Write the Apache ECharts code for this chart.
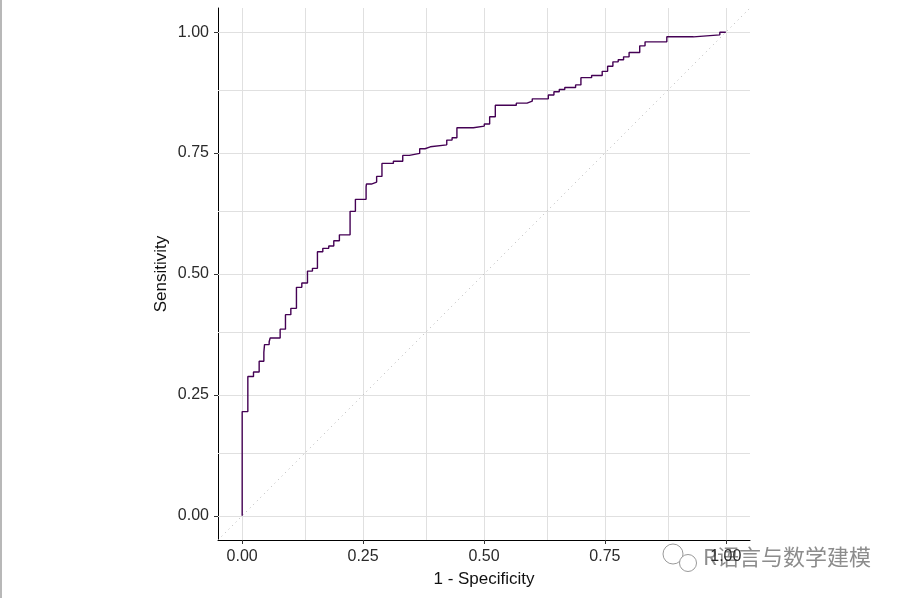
<!DOCTYPE html>
<html>
<head>
<meta charset="utf-8">
<script src="https://cdn.jsdelivr.net/npm/echarts@6/dist/echarts.min.js"></script>
<style>
html,body{margin:0;padding:0;background:#fff;}
#chart{width:899px;height:598px;}
</style>
</head>
<body>
<div id="chart"></div>
<script>
// ROC curve points (1 - specificity, sensitivity)
const fpr = [0, 0, 0.0117, 0.0234, 0.0351, 0.0448, 0.0462, 0.0558, 0.0579, 0.0785, 0.0895, 0.1006, 0.1122, 0.1233, 0.135, 0.1453, 0.1556, 0.1667, 0.179, 0.1894, 0.201, 0.2231, 0.2341, 0.2562, 0.2569, 0.2672, 0.278, 0.289, 0.3126, 0.332, 0.3457, 0.367, 0.378, 0.389, 0.423, 0.434, 0.444, 0.478, 0.5006, 0.5117, 0.5234, 0.5668, 0.589, 0.5998, 0.633, 0.6446, 0.6556, 0.667, 0.6894, 0.7004, 0.7225, 0.7444, 0.7556, 0.7665, 0.7775, 0.7886, 0.800, 0.822, 0.833, 0.878, 0.933, 0.9876, 1.0];
const tpr = [0, 0.2155, 0.288, 0.2975, 0.3196, 0.338, 0.354, 0.360, 0.3678, 0.386, 0.416, 0.429, 0.4724, 0.4814, 0.506, 0.5117, 0.546, 0.553, 0.558, 0.5688, 0.581, 0.6295, 0.6543, 0.680, 0.686, 0.690, 0.7018, 0.7287, 0.733, 0.7452, 0.7493, 0.759, 0.763, 0.767, 0.7769, 0.7816, 0.8023, 0.8058, 0.81, 0.825, 0.849, 0.8533, 0.8574, 0.8622, 0.870, 0.8767, 0.8815, 0.8857, 0.891, 0.906, 0.9105, 0.919, 0.9297, 0.9387, 0.943, 0.949, 0.958, 0.9717, 0.980, 0.9904, 0.9945, 1.0, 1.0];
const tickValues = [0, 0.25, 0.5, 0.75, 1];
const gridValues = [0, 0.125, 0.25, 0.375, 0.5, 0.625, 0.75, 0.875, 1];
const diagonal = [[-0.05, -0.05], [1.05, 1.05]];
const axisRange = [-0.05, 1.05];

const rocData = fpr.map((x, i) => [x, tpr[i]]);
const fmt = v => v.toFixed(2);

const chart = echarts.init(document.getElementById('chart'), null, {renderer: 'canvas'});
const gridMarks = [];
gridValues.forEach(v => { gridMarks.push({xAxis: v}); gridMarks.push({yAxis: v}); });

chart.setOption({
  animation: false,
  backgroundColor: '#ffffff',
  grid: {left: 218, top: 8, right: 149, bottom: 58, containLabel: false},
  xAxis: {
    type: 'value', min: axisRange[0], max: axisRange[1],
    name: '1 - Specificity', nameLocation: 'middle', nameGap: 31, nameMoveOverlap: false,
    nameTextStyle: {fontFamily: 'Liberation Sans, Arial', fontSize: 17, color: '#111'},
    axisLine: {show: true, onZero: false, lineStyle: {color: '#000', width: 1}},
    axisTick: {show: true, length: 4, customValues: tickValues, lineStyle: {color: '#333'}},
    axisLabel: {customValues: tickValues, formatter: fmt, margin: 9, fontFamily: 'Liberation Sans, Arial', fontSize: 16, color: '#2a2a2a'},
    splitLine: {show: false}, minorSplitLine: {show: false}
  },
  yAxis: {
    type: 'value', min: axisRange[0], max: axisRange[1],
    name: 'Sensitivity', nameLocation: 'middle', nameGap: 48, nameRotate: 90, nameMoveOverlap: false,
    nameTextStyle: {fontFamily: 'Liberation Sans, Arial', fontSize: 17, color: '#111'},
    axisLine: {show: true, onZero: false, lineStyle: {color: '#000', width: 1}},
    axisTick: {show: true, length: 4, customValues: tickValues, lineStyle: {color: '#333'}},
    axisLabel: {customValues: tickValues, formatter: fmt, margin: 9, fontFamily: 'Liberation Sans, Arial', fontSize: 16, color: '#2a2a2a'},
    splitLine: {show: false}, minorSplitLine: {show: false}
  },
  series: [
    {
      type: 'line', name: 'grid', data: [], silent: true, z: 1,
      markLine: {
        silent: true, z: 1, symbol: ['none', 'none'], label: {show: false},
        lineStyle: {color: '#e0e0e0', width: 1, type: 'solid'},
        emphasis: {disabled: true},
        data: gridMarks
      }
    },
    {
      type: 'line', name: 'diag', data: diagonal, showSymbol: false, silent: true, z: 2,
      lineStyle: {color: '#b5b5b5', width: 1, type: [1, 4]}
    },
    {
      type: 'line', name: 'roc', data: rocData, step: 'end', showSymbol: false, z: 10,
      lineStyle: {color: '#440154', width: 1.4}
    }
  ],
  graphic: [
    {type: 'rect', left: 0, top: 0, shape: {width: 2, height: 598}, style: {fill: '#b8b8b8'}},
    {type: 'circle', shape: {cx: 673, cy: 554, r: 10}, style: {fill: '#fff', stroke: '#9a9a9a', lineWidth: 1}},
    {type: 'circle', shape: {cx: 688, cy: 563, r: 8.5}, style: {fill: '#fff', stroke: '#9a9a9a', lineWidth: 1}},
    {type: 'text', left: 703, top: 546, style: {text: 'R语言与数学建模', font: '22px "Noto Sans CJK SC", sans-serif', fill: '#8c8c8c'}}
  ]
});
</script>
</body>
</html>
